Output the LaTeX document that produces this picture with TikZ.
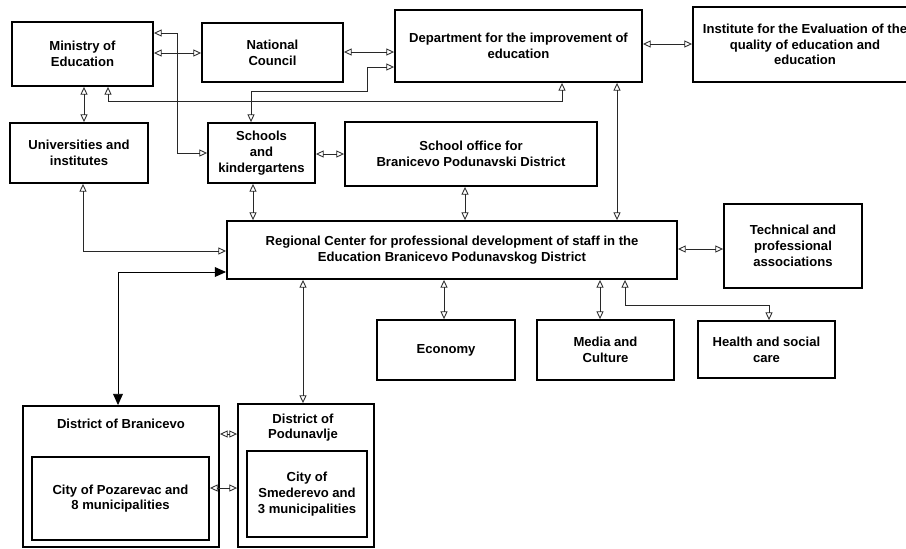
\documentclass[tikz,border=0pt]{standalone}
\usepackage{fontspec}
\setmainfont{Liberation Sans}
\usepackage{tikz}
\usetikzlibrary{arrows.meta, positioning, calc}
\definecolor{mydark}{RGB}{40,40,40}
\tikzset{
  box/.style={rectangle, draw=black, fill=white, align=center,
    font=\fontsize{9.3}{11.2}\selectfont\bfseries, line width=1.3pt, inner sep=2pt},
  biarrow/.style={{Triangle[open, length=5.5pt, width=5pt]}-{Triangle[open, length=5.5pt, width=5pt]}, line width=0.6pt, color=mydark},
  fillarrow/.style={{Triangle[length=8pt, width=7pt]}-{Triangle[length=8pt, width=7pt]}, line width=0.6pt, color=black}
}

\begin{document}
\begin{tikzpicture}[x=0.025cm, y=-0.025cm]
  \clip (0,0) rectangle (906,548);

  % Nodes
  \node[box, minimum width=3.525cm, minimum height=1.6cm] (min) at (82.5,54) {Ministry of\\Education};
  \node[box, minimum width=3.525cm, minimum height=1.475cm] (nat) at (272.5,52.5) {National\\Council};
  \node[box, minimum width=6.175cm, minimum height=1.8cm] (dep) at (518.5,46) {Department for the improvement of\\education};
  \node[box, minimum width=5.6cm, minimum height=1.875cm] (ins) at (805,44.5) {Institute for the Evaluation of the\\quality of education and\\education};
  \node[box, minimum width=3.45cm, minimum height=1.5cm] (uni) at (79,153) {Universities and\\institutes};
  \node[box, minimum width=2.675cm, minimum height=1.5cm] (sch) at (261.5,153) {Schools\\and\\kindergartens};
  \node[box, minimum width=6.3cm, minimum height=1.6cm] (off) at (471,154) {School office for\\Branicevo Podunavski District};
  \node[box, minimum width=11.25cm, minimum height=1.45cm] (reg) at (452,250) {Regional Center for professional development of staff in the\\Education Branicevo Podunavskog District};
  \node[box, minimum width=3.45cm, minimum height=2.1cm] (tec) at (793,246) {Technical and\\professional\\associations};
  \node[box, minimum width=3.45cm, minimum height=1.5cm] (eco) at (446,350) {Economy};
  \node[box, minimum width=3.425cm, minimum height=1.5cm] (med) at (605.5,350) {Media and\\Culture};
  \node[box, minimum width=3.425cm, minimum height=1.425cm] (hea) at (766.5,349.5) {Health and social\\care};

  \node[box, minimum width=4.9cm, minimum height=3.525cm] (bra) at (121,476.5) {};
  \node[font=\fontsize{9.3}{11.2}\selectfont\bfseries] (bralbl) at (121,424) {District of Branicevo};
  \node[box, minimum width=4.425cm, minimum height=2.075cm] (poz) at (120.5,498.5) {City of Pozarevac and\\8 municipalities};
  \node[box, minimum width=3.4cm, minimum height=3.575cm] (pod) at (306,475.5) {};
  \node[font=\fontsize{9.3}{11.2}\selectfont\bfseries, align=center] (podlbl) at (303,427.5) {District of\\Podunavlje};
  \node[box, minimum width=3.0cm, minimum height=2.15cm] (sme) at (307,494) {City of\\Smederevo and\\3 municipalities};

  % Connections
  \draw[biarrow] (min.east |- 0,53) -- (nat.west |- 0,53);
  \draw[biarrow] (min.east |- 0,33) -| (177,153) -- (sch.west);
  \draw[biarrow] (nat.east |- 0,52) -- (dep.west |- 0,52);
  \draw[biarrow] (dep.west |- 0,67) -| (367,91) -| (sch.north -| 251,0);
  \draw[biarrow] (min.south -| 108,0) |- (562,101) -- (dep.south -| 562,0);
  \draw[biarrow] (min.south -| 84,0) -- (uni.north -| 84,0);
  \draw[biarrow] (sch.east |- 0,154) -- (off.west |- 0,154);
  \draw[biarrow] (dep.east |- 0,44) -- (ins.west |- 0,44);
  \draw[biarrow] (dep.south -| 617,0) -- (reg.north -| 617,0);
  \draw[biarrow] (uni.south -| 83,0) |- (reg.west |- 0,251);
  \draw[biarrow] (sch.south -| 253,0) -- (reg.north -| 253,0);
  \draw[biarrow] (off.south -| 465,0) -- (reg.north -| 465,0);
  \draw[biarrow] (reg.east |- 0,249) -- (tec.west |- 0,249);
  \draw[biarrow] (reg.south -| 444,0) -- (eco.north -| 444,0);
  \draw[biarrow] (reg.south -| 600,0) -- (med.north -| 600,0);
  \draw[biarrow] (reg.south -| 625,0) |- (769,305) -- (hea.north -| 769,0);
  \draw[fillarrow] (bra.north -| 118,0) |- (reg.west |- 0,272);
  \draw[biarrow] (reg.south -| 303,0) -- (pod.north -| 303,0);
  \draw[biarrow] (bra.east |- 0,434) -- (pod.west |- 0,434);
  \draw[biarrow] (poz.east |- 0,488) -- (pod.west |- 0,488);

\end{tikzpicture}
\end{document}
